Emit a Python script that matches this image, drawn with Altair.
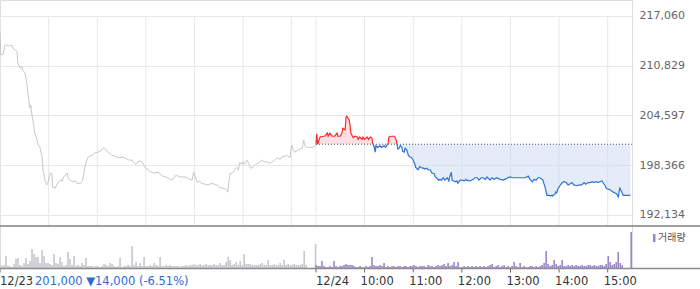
import altair as alt
import pandas as pd

# ---------------- data ----------------
# minutes from 12/23 09:00 (12/24 09:00 = 390 on this compressed session axis)
d1_t = [0, 1, 4, 6, 10, 12, 15, 16, 19, 21,
        22, 25, 27, 28, 31, 33, 35, 37, 38, 39,
        41, 43, 46, 47, 49, 52, 53, 56, 58, 59,
        62, 64, 65, 68, 70, 74, 77, 78, 80, 83,
        84, 86, 90, 93, 95, 99, 101, 102, 105, 107,
        109, 111, 114, 117, 121, 123, 126, 128, 131, 133,
        136, 138, 142, 144, 148, 151, 154, 157, 160, 163,
        167, 169, 170, 173, 175, 179, 183, 185, 189, 191,
        195, 197, 201, 204, 207, 210, 212, 216, 218, 222,
        225, 228, 231, 234, 237, 239, 243, 247, 249, 253,
        257, 259, 263, 265, 268, 271, 274, 278, 280, 281,
        284, 286, 288, 290, 292, 294, 296, 299, 300, 302,
        305, 307, 309, 312, 315, 318, 321, 323, 326, 329,
        333, 336, 339, 342, 346, 348, 352, 354, 357, 358,
        360, 362, 364, 368, 370, 373, 375, 376, 379, 383,
        386, 389, 390]
d1_p = [215000, 212200, 212300, 213400, 213400, 213300, 213400, 213000, 212800, 212600,
        211200, 210500, 210800, 210300, 209900, 208700, 206900, 205500, 205900, 204900,
        203700, 202400, 201500, 200900, 200700, 199400, 197800, 196300, 195900, 196100,
        197400, 197300, 195600, 195500, 195900, 196500, 196400, 196900, 197000, 197400,
        196800, 196500, 196300, 196400, 196100, 196100, 196300, 196500, 198200, 199000,
        199400, 199500, 199600, 199900, 200000, 200100, 200300, 200600, 200300, 200000,
        199800, 199600, 199500, 199400, 199300, 199400, 199300, 199100, 199000, 199000,
        198500, 198600, 198800, 198900, 198800, 198100, 197800, 197600, 197400, 197400,
        197500, 197300, 197000, 196900, 196800, 196600, 196500, 197000, 197100, 196900,
        196900, 196900, 196800, 196600, 196500, 197500, 196300, 196300, 196100, 196000,
        195900, 196000, 196100, 195900, 195900, 195600, 195500, 195400, 195300, 195000,
        197400, 197300, 197500, 197900, 198100, 197800, 198700, 198500, 198800, 198500,
        199000, 198600, 198000, 198100, 198400, 198600, 198800, 199000, 198800, 198800,
        198600, 198800, 199000, 199300, 199100, 199400, 199500, 199600, 199400, 199300,
        200900, 200300, 200000, 200300, 200400, 200500, 201500, 200800, 200600, 200600,
        200600, 200800, 201000]

d2_t = [390, 391, 392, 395, 399, 401, 404, 405, 407, 410,
        413, 416, 417, 420, 422, 423, 426, 427, 428, 431,
        432, 433, 436, 438, 441, 442, 444, 447, 448, 450,
        453, 455, 457, 459, 460, 462, 463, 464, 466, 469,
        471, 474, 476, 479, 480, 483, 485, 487, 489, 490,
        491, 492, 494, 496, 497, 499, 500, 502, 504, 506,
        508, 510, 512, 513, 516, 518, 521, 523, 524, 527,
        528, 531, 533, 536, 537, 539, 541, 543, 545, 547,
        549, 552, 554, 555, 557, 558, 560, 562, 564, 565,
        568, 570, 573, 575, 576, 580, 584, 586, 589, 591,
        594, 596, 599, 601, 605, 607, 610, 613, 617, 621,
        623, 627, 629, 633, 636, 638, 642, 645, 648, 652,
        654, 657, 659, 662, 664, 666, 669, 670, 673, 675,
        678, 679, 681, 682, 685, 686, 687, 689, 691, 694,
        696, 699, 701, 703, 706, 708, 712, 715, 718, 721,
        723, 726, 728, 731, 733, 736, 738, 740, 743, 744,
        747, 748, 750, 753, 755, 757, 759, 761, 763, 765,
        766, 768, 769, 773, 778]
d2_p = [201000, 202300, 201000, 201900, 202000, 202000, 202400, 202000, 202400, 202000,
        202000, 202400, 202000, 202000, 202400, 203000, 202800, 204400, 204500, 204000,
        203400, 202400, 201800, 202000, 201900, 201600, 201900, 201600, 201900, 201600,
        201900, 201600, 201900, 201800, 201100, 200600, 200000, 200800, 200600, 200800,
        200600, 200800, 200600, 201100, 201900, 202000, 202000, 202000, 201500, 200900,
        200400, 200400, 200800, 200600, 200100, 200000, 200500, 200300, 199600, 199400,
        199300, 199000, 198500, 198100, 197800, 198200, 198000, 198000, 197900, 198000,
        197800, 197800, 197400, 197300, 196900, 196800, 196500, 196600, 196500, 196800,
        196500, 196800, 196400, 196900, 197500, 196500, 196400, 196300, 196400, 196100,
        196500, 196500, 196400, 196600, 196500, 196400, 196600, 196800, 196800, 196500,
        196800, 196800, 196600, 196900, 196500, 196800, 196600, 196800, 196600, 196500,
        196600, 196800, 196900, 196800, 196800, 196800, 196800, 196800, 196800, 197000,
        196600, 196300, 196600, 196500, 196800, 196800, 196600, 196500, 195500, 194600,
        194600, 194500, 194600, 194500, 194800, 195000, 194900, 195500, 195800, 196200,
        196300, 196200, 195900, 196000, 196200, 195900, 195800, 195900, 195900, 196200,
        196000, 196200, 196200, 196300, 196200, 196300, 196200, 196300, 196400, 196200,
        195800, 195500, 195400, 195300, 195100, 195000, 194900, 194800, 194400, 195500,
        195300, 194900, 194600, 194600, 194600]

# volume (thousand shares), one bar per 2.47-minute slot
vol_step = 2.47
vol1 = [3, 2, 3, 12, 2, 2, 1, 4, 9, 10,
        3, 2, 5, 10, 4, 7, 19, 14, 11, 11,
        5, 18, 12, 5, 5, 4, 3, 14, 5, 4,
        11, 6, 2, 3, 16, 9, 3, 12, 2, 3,
        2, 5, 3, 10, 2, 2, 2, 1, 2, 2,
        1, 2, 4, 3, 2, 5, 4, 2, 1, 2,
        10, 1, 2, 2, 3, 2, 22, 3, 6, 2,
        5, 2, 11, 2, 2, 3, 2, 5, 3, 2,
        11, 2, 2, 3, 2, 3, 2, 2, 2, 2,
        1, 2, 2, 3, 2, 3, 3, 4, 3, 3,
        4, 3, 3, 4, 3, 3, 3, 4, 3, 3,
        5, 3, 3, 6, 11, 8, 3, 4, 6, 3,
        7, 3, 14, 4, 4, 4, 3, 3, 3, 3,
        4, 5, 3, 3, 8, 3, 3, 4, 3, 3,
        5, 3, 8, 3, 4, 3, 3, 4, 3, 3,
        3, 4, 17, 3]
vol2 = [3, 2, 2, 7, 2, 1, 1, 2, 1, 7,
        2, 1, 2, 2, 3, 4, 3, 3, 3, 2,
        1, 1, 2, 1, 1, 2, 1, 2, 11, 3,
        2, 2, 3, 2, 5, 1, 2, 1, 2, 2,
        1, 2, 2, 1, 2, 2, 1, 2, 2, 3,
        2, 1, 2, 2, 2, 1, 3, 2, 2, 1,
        2, 3, 2, 3, 4, 2, 5, 2, 3, 6,
        2, 6, 1, 1, 2, 1, 2, 1, 2, 1,
        2, 1, 2, 1, 2, 1, 2, 3, 4, 1,
        2, 3, 1, 2, 3, 1, 2, 1, 2, 6,
        2, 1, 5, 1, 2, 1, 1, 2, 2, 1,
        2, 1, 2, 3, 5, 17, 4, 2, 3, 8,
        4, 2, 3, 8, 2, 2, 3, 2, 3, 2,
        3, 2, 2, 3, 2, 2, 3, 3, 2, 3,
        2, 2, 3, 3, 2, 4, 12, 6, 3, 4,
        6, 16, 5, 3]
close_auction_t = [389.5, 779]
close_auction_v = [24, 36]

BASE = 201000
Y_TICKS = [192134, 198366, 204597, 210829, 217060]
PRICE_PANEL_BOTTOM = 190756
GRID_T = [0, 60, 120, 180, 240, 300, 360, 390, 450, 510, 570, 630, 690, 750]
TICK_T = [0, 390, 450, 510, 570, 630, 690, 750]
DATE_T = [0, 390]
DATE_LABELS = ["12/23", "12/24"]
TIME_T = [450, 510, 570, 630, 690, 750]
TIME_LABELS = ["10:00", "11:00", "12:00", "13:00", "14:00", "15:00"]
DAY1_SUMMARY = "201,000 \u25bc14,000 (-6.51%)"
LEGEND_LABEL = "거래량"

assert len(d1_t) == len(d1_p) and len(d2_t) == len(d2_p)

# ---------------- frames ----------------
df1 = pd.DataFrame({"t": d1_t, "p": d1_p})

# split day-2 into runs above / below the previous close
runs = []
cur_side, cur, prev = None, [], None
for t, p in zip(d2_t, d2_p):
    side = "up" if p > BASE else ("down" if p < BASE else (cur_side or "up"))
    if cur_side is None:
        cur_side, cur = side, [(t, p)]
    elif side == cur_side:
        cur.append((t, p))
    else:
        t0, p0 = prev
        if p0 == BASE:
            tc = t0
        else:
            tc = t0 + (BASE - p0) * (t - t0) / (p - p0)
        if cur[-1] != (tc, BASE):
            cur.append((tc, BASE))
        runs.append((cur_side, cur))
        cur = [(tc, BASE), (t, p)] if tc != t else [(t, p)]
        cur_side = side
    prev = (t, p)
runs.append((cur_side, cur))

seg_rows, seq_rows = [], []
for i, (side, pts) in enumerate(runs):
    for t, p in pts:
        seg_rows.append({"t": t, "p": p, "seg": i, "side": side})
        seq_rows.append({"t": t, "p": p})
df_seg = pd.DataFrame(seg_rows)
df_seq = pd.DataFrame(seq_rows).drop_duplicates().sort_values("t")
df_seq["base"] = BASE
df_seq["up"] = df_seq["p"].clip(lower=BASE)
df_seq["dn"] = df_seq["p"].clip(upper=BASE)

dfv1 = pd.DataFrame({"t": [i * vol_step for i in range(len(vol1))] + [close_auction_t[0]],
                     "v": vol1 + [close_auction_v[0]]})
dfv2 = pd.DataFrame({"t": [390 + i * vol_step for i in range(len(vol2))] + [close_auction_t[1]],
                     "v": vol2 + [close_auction_v[1]]})

FONT = "DejaVu Sans"
xs = alt.Scale(domain=[0, 780], nice=False, zero=False, padding=0)
# price panel occupies the upper part of the plot, volume the bottom strip
ys = alt.Scale(domain=[185495, 219064], nice=False, zero=False)
vs = alt.Scale(domain=[0, 268], nice=False, zero=False)

price_axis = alt.Axis(orient="right", values=Y_TICKS, format=",d", grid=True,
                      gridColor="#e8e8e8", gridWidth=1, domain=False, ticks=False,
                      labelPadding=7, labelFont=FONT, labelFontSize=11,
                      labelColor="#666666", title=None)

X = alt.X("t:Q", scale=xs, axis=None)
YP = lambda f: alt.Y(f, scale=ys, axis=None)

vgrid = alt.Chart(pd.DataFrame({"t": GRID_T, "top": Y_TICKS[-1], "bot": PRICE_PANEL_BOTTOM})).mark_rule(
    color="#e8e8e8", strokeWidth=1).encode(x=X, y=YP("top:Q"), y2="bot:Q")

line1 = alt.Chart(df1).mark_line(color="#c6c8cd", strokeWidth=1).encode(
    x=X, y=alt.Y("p:Q", scale=ys, axis=price_axis))

area_up = alt.Chart(df_seq).mark_area(color="#fbc1c7", opacity=0.5).encode(
    x=X, y=YP("up:Q"), y2="base:Q")
area_dn = alt.Chart(df_seq).mark_area(color="#c9daf3", opacity=0.5).encode(
    x=X, y=YP("dn:Q"), y2="base:Q")

ref_line = alt.Chart(pd.DataFrame({"t0": [390], "t1": [780], "p": [BASE]})).mark_rule(
    color="#555555", strokeDash=[1, 2], strokeWidth=1).encode(
    x=alt.X("t0:Q", scale=xs, axis=None), x2="t1:Q", y=YP("p:Q"))

line_up = alt.Chart(df_seg[df_seg.side == "up"]).mark_line(color="#ff2b2b", strokeWidth=1.2).encode(
    x=X, y=YP("p:Q"), detail="seg:N")
line_dn = alt.Chart(df_seg[df_seg.side == "down"]).mark_line(color="#2f72d6", strokeWidth=1.2).encode(
    x=X, y=YP("p:Q"), detail="seg:N")

YV = lambda f: alt.Y(f, scale=vs, axis=None)
bars1 = alt.Chart(dfv1).mark_bar(color="#c5c7cb", size=1.6).encode(x=X, y=YV("v:Q"))
bars2 = alt.Chart(dfv2).mark_bar(color="#9a86c9", size=1.6).encode(x=X, y=YV("v:Q"))

xticks = alt.Chart(pd.DataFrame({"t": TICK_T, "a": 0, "b": -4.5})).mark_rule(
    color="#666666", strokeWidth=1).encode(x=X, y=YV("a:Q"), y2="b:Q")

one = pd.DataFrame({"k": [0]})
sep = alt.Chart(one).mark_rule(color="#808080", strokeWidth=1.5).encode(
    x=alt.value(0), x2=alt.value(700), y=alt.value(226))
baseline = alt.Chart(one).mark_rule(color="#8c8c8c", strokeWidth=1.5).encode(
    x=alt.value(0), x2=alt.value(700), y=alt.value(268.5))

date_txt = alt.Chart(pd.DataFrame({"t": DATE_T, "label": DATE_LABELS})).mark_text(
    align="left", baseline="middle", font=FONT, fontSize=11.5, color="#333333").encode(
    x=X, y=alt.value(282), text="label:N")
time_txt = alt.Chart(pd.DataFrame({"t": TIME_T, "label": TIME_LABELS})).mark_text(
    align="left", baseline="middle", font=FONT, fontSize=11.5, color="#333333", dx=-4).encode(
    x=X, y=alt.value(282), text="label:N")
summary = alt.Chart(pd.DataFrame({"s": [DAY1_SUMMARY]})).mark_text(
    align="left", baseline="middle", font=FONT, fontSize=11.5, color="#2a6dd2").encode(
    x=alt.value(35), y=alt.value(282), text="s:N")

leg_box = alt.Chart(one).mark_rect(color="#9a86c9").encode(
    x=alt.value(653), x2=alt.value(655.5), y=alt.value(234), y2=alt.value(242))
leg_txt = alt.Chart(pd.DataFrame({"s": [LEGEND_LABEL]})).mark_text(
    align="left", baseline="middle", font="Noto Sans CJK KR", fontSize=10, color="#555555").encode(
    x=alt.value(658), y=alt.value(238), text="s:N")

chart = alt.layer(
    vgrid, line1, area_up, area_dn, ref_line, line_up, line_dn,
    bars1, bars2, xticks, sep, baseline, date_txt, time_txt, summary, leg_box, leg_txt
).resolve_scale(y="independent").properties(
    width=632, height=268,
    padding={"left": 0, "top": 0, "right": 68, "bottom": 21},
    autosize=alt.AutoSizeParams(type="none"),
).configure_view(stroke=None).configure(font=FONT)

chart.save("out.html", embed_options={"renderer": "svg", "actions": False})
